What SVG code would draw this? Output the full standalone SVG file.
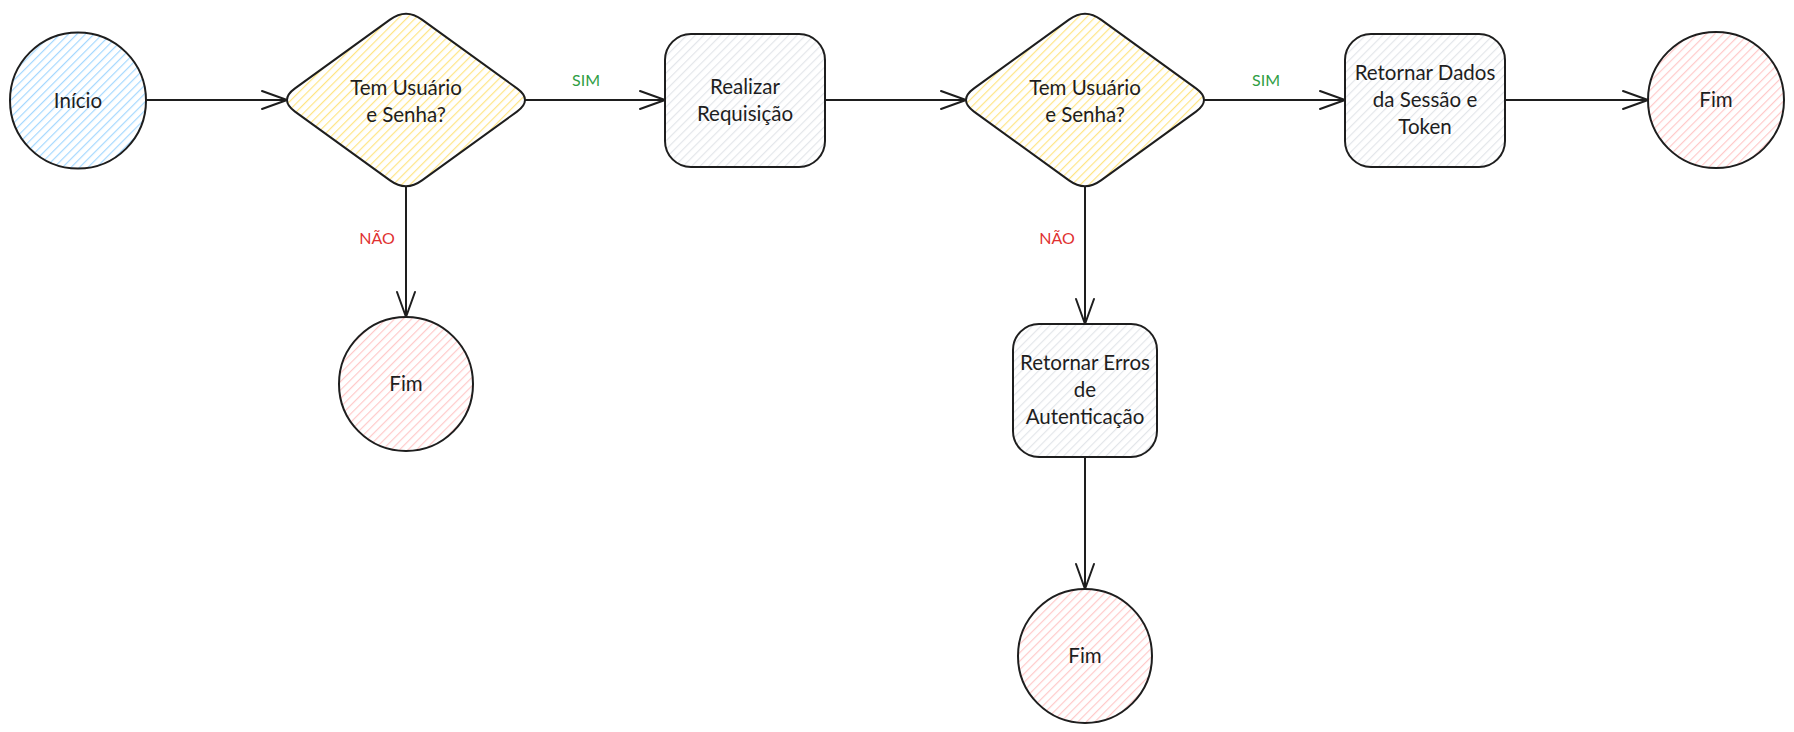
<svg xmlns="http://www.w3.org/2000/svg" width="1794" height="732" viewBox="0 0 1794 732">
<style>
.shape{stroke:#1e1e1e;stroke-width:2;stroke-linejoin:round}
.t{font-family:Lato,"Open Sans","Liberation Sans",sans-serif;font-size:20.5px;fill:#1e1e1e;text-anchor:middle}
.lbl{font-family:Lato,"Open Sans","Liberation Sans",sans-serif;font-size:16px;text-anchor:middle}
.sim{fill:#2f9e44}
.nao{fill:#e03131}
.edge{fill:none;stroke:#1e1e1e;stroke-width:2;marker-end:url(#arr)}
</style>
<defs>
<pattern id="hBlue" patternUnits="userSpaceOnUse" width="6" height="6" patternTransform="rotate(45)"><line x1="0.6" y1="0" x2="0.6" y2="6" stroke="#a5d8ff" stroke-width="1.2"/></pattern>
<pattern id="hYellow" patternUnits="userSpaceOnUse" width="6" height="6" patternTransform="rotate(45)"><line x1="0.6" y1="0" x2="0.6" y2="6" stroke="#ffe585" stroke-width="1.2"/></pattern>
<pattern id="hGrey" patternUnits="userSpaceOnUse" width="6" height="6" patternTransform="rotate(45)"><line x1="0.6" y1="0" x2="0.6" y2="6" stroke="#e3e6ea" stroke-width="1.2"/></pattern>
<pattern id="hPink" patternUnits="userSpaceOnUse" width="6" height="6" patternTransform="rotate(45)"><line x1="0.6" y1="0" x2="0.6" y2="6" stroke="#ffc9c9" stroke-width="1.2"/></pattern>
<marker id="arr" markerUnits="userSpaceOnUse" markerWidth="30" markerHeight="24" viewBox="0 0 30 24" refX="27" refY="12" orient="auto">
<path d="M2,3 L27,12 L2,21" fill="none" stroke="#1e1e1e" stroke-width="2" stroke-linecap="round" stroke-linejoin="round"/>
</marker>
</defs>

<g id="connectors">
<line class="edge" x1="146" y1="100" x2="287" y2="100"/>
<line class="edge" x1="525" y1="100" x2="665" y2="100"/>
<line class="edge" x1="825" y1="100" x2="966" y2="100"/>
<line class="edge" x1="1204" y1="100" x2="1345" y2="100"/>
<line class="edge" x1="1505" y1="100" x2="1648" y2="100"/>
<line class="edge" x1="406" y1="186" x2="406" y2="317"/>
<line class="edge" x1="1085" y1="186" x2="1085" y2="324"/>
<line class="edge" x1="1085" y1="457" x2="1085" y2="589"/>
<text class="lbl sim" x="586" y="86">SIM</text>
<text class="lbl sim" x="1266" y="86">SIM</text>
<text class="lbl nao" x="377" y="244">NÃO</text>
<text class="lbl nao" x="1057" y="244">NÃO</text>
</g>

<g id="inicio">
<circle class="shape" cx="78" cy="100.5" r="68" fill="url(#hBlue)"/>
<text class="t" x="78" y="107.5">Início</text>
</g>

<g id="decisao1">
<path class="shape" fill="url(#hYellow)" d="M295,88.4 L390,19.6 Q406,8 422,19.6 L517,88.4 Q533,100 517,111.6 L422,180.4 Q406,192 390,180.4 L295,111.6 Q279,100 295,88.4 Z"/>
<text class="t" x="406" y="95">Tem Usuário</text>
<text class="t" x="406" y="122">e Senha?</text>
</g>

<g id="fim1">
<circle class="shape" cx="406" cy="384" r="67" fill="url(#hPink)"/>
<text class="t" x="406" y="391">Fim</text>
</g>

<g id="requisicao">
<rect class="shape" x="665" y="34" width="160" height="133" rx="26" fill="url(#hGrey)"/>
<text class="t" x="745" y="94">Realizar</text>
<text class="t" x="745" y="121">Requisição</text>
</g>

<g id="decisao2">
<path class="shape" fill="url(#hYellow)" d="M974,88.4 L1069,19.6 Q1085,8 1101,19.6 L1196,88.4 Q1212,100 1196,111.6 L1101,180.4 Q1085,192 1069,180.4 L974,111.6 Q958,100 974,88.4 Z"/>
<text class="t" x="1085" y="95">Tem Usuário</text>
<text class="t" x="1085" y="122">e Senha?</text>
</g>

<g id="erros">
<rect class="shape" x="1013" y="324" width="144" height="133" rx="26" fill="url(#hGrey)"/>
<text class="t" x="1085" y="370">Retornar Erros</text>
<text class="t" x="1085" y="397">de</text>
<text class="t" x="1085" y="424">Autenticação</text>
</g>

<g id="fim3">
<circle class="shape" cx="1085" cy="656" r="67" fill="url(#hPink)"/>
<text class="t" x="1085" y="663">Fim</text>
</g>

<g id="dados">
<rect class="shape" x="1345" y="34" width="160" height="133" rx="26" fill="url(#hGrey)"/>
<text class="t" x="1425" y="80">Retornar Dados</text>
<text class="t" x="1425" y="107">da Sessão e</text>
<text class="t" x="1425" y="134">Token</text>
</g>

<g id="fim2">
<circle class="shape" cx="1716" cy="100" r="68" fill="url(#hPink)"/>
<text class="t" x="1716" y="107">Fim</text>
</g>
</svg>
